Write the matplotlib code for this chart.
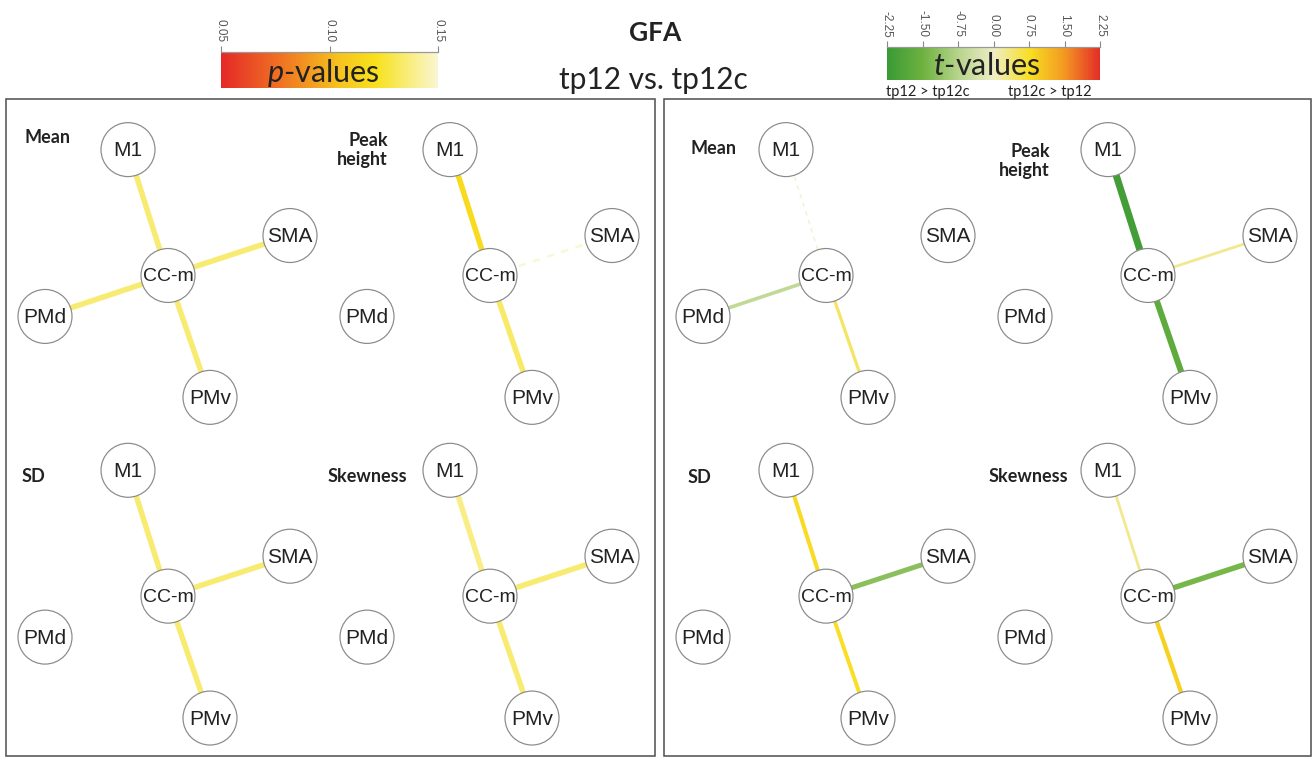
import numpy as np
import matplotlib
matplotlib.use('Agg')
import matplotlib.pyplot as plt
from matplotlib.patches import Circle, Rectangle
from matplotlib.colors import LinearSegmentedColormap, Normalize
from matplotlib.cm import ScalarMappable

plt.rcParams['mathtext.fontset'] = 'custom'
plt.rcParams['mathtext.it'] = 'Lato:italic'
plt.rcParams['mathtext.rm'] = 'Lato'

# ---- data ----
nodes = ['M1', 'SMA', 'PMd', 'PMv']          # edges go from CC-m to these
measures = ['Mean', 'Peak\nheight', 'SD', 'Skewness']

# left box: p-values (nan = no edge)
p_mean = [0.135, 0.135, 0.135, 0.135]
p_peak = [0.118, 0.148, np.nan, 0.133]
p_sd = [0.135, 0.135, np.nan, 0.135]
p_skew = [0.138, 0.135, np.nan, 0.135]

# right box: t-values
t_mean = [0.05, np.nan, -0.6, 0.45]
t_peak = [-2.1, 0.25, np.nan, -1.7]
t_sd = [0.8, -1.2, np.nan, 0.75]
t_skew = [0.25, -1.4, np.nan, 0.9]

p_ticks = [0.05, 0.10, 0.15]
t_ticks = [-2.25, -1.50, -0.75, 0.00, 0.75, 1.50, 2.25]

# ---- colour maps ----
p_cmap = LinearSegmentedColormap.from_list('pv', [
    (0.0, '#e52828'), (0.3, '#f07a22'), (0.55, '#f6c41e'),
    (0.72, '#f8e21e'), (1.0, '#f9f6d2')])
t_cmap = LinearSegmentedColormap.from_list('tv', [
    (0.0, '#3a9a35'), (0.17, '#6fb240'), (0.33, '#b5d38a'),
    (0.5, '#eeedc6'), (0.67, '#f8df22'), (0.83, '#f39a22'),
    (1.0, '#e42d28')])
p_norm = Normalize(0.05, 0.15)
t_norm = Normalize(-2.25, 2.25)

W, H = 1315, 757
fig = plt.figure(figsize=(W / 100, H / 100), dpi=100)
ax = fig.add_axes([0, 0, 1, 0.999])
ax.set_xlim(0, W)
ax.set_ylim(H, 0)
ax.axis('off')

PX = 0.72  # points per pixel

# layout of one network, relative to CC-m
offs = {'M1': (-40, -126), 'SMA': (122, -40), 'PMd': (-123, 41), 'PMv': (42, 122)}
R = 27
col_x = [168, 490, 826, 1148]
row_y = [275, 596]

# boxes
for x0, x1 in [(6, 655), (664, 1311)]:
    ax.add_patch(Rectangle((x0, 98), x1 - x0, 658, fill=False, ec='#555555', lw=1.6 * PX))


def draw_net(cx, cy, vals, kind):
    for n, v in zip(nodes, vals):
        if np.isnan(v):
            continue
        dx, dy = offs[n]
        if kind == 'p':
            col = p_cmap(p_norm(v))
            faint = v >= 0.145
            lw = 2.5 if faint else 5.5
        else:
            col = t_cmap(t_norm(v))
            faint = abs(v) < 0.1
            lw = 1.5 if faint else 2.2 + 2.3 * abs(v)
        ls = (0, (3, 3)) if faint else '-'
        ax.plot([cx, cx + dx], [cy, cy + dy], color=col, lw=lw * PX, ls=ls,
                alpha=0.7 if faint else 1, solid_capstyle='butt', zorder=2)
    for n, (dx, dy) in list(offs.items()) + [('CC-m', (0, 0))]:
        ax.add_patch(Circle((cx + dx, cy + dy), R, fc='white', ec='#8a8a8a',
                            lw=1.2 * PX, zorder=3))
        ax.text(cx + dx, cy + dy + 1, n, ha='center', va='center',
                fontsize=15 if n != 'CC-m' else 14,
                family='Liberation Sans', color='#222222', zorder=4)


left = [p_mean, p_peak, p_sd, p_skew]
right = [t_mean, t_peak, t_sd, t_skew]
for i in range(4):
    r, c = divmod(i, 2)
    draw_net(col_x[c], row_y[r], left[i], 'p')
    draw_net(col_x[c + 2], row_y[r], right[i], 't')

lab = dict(fontsize=13, fontweight='bold', family='Lato', color='#222222', va='center')
ax.text(25, 137, measures[0], ha='left', **lab)
ax.text(388, 149, measures[1], ha='right', ma='right', linespacing=1.15, **lab)
ax.text(22, 476, measures[2], ha='left', **lab)
ax.text(407, 476, measures[3], ha='right', **lab)
ax.text(691, 148, measures[0], ha='left', **lab)
ax.text(1050, 160, measures[1], ha='right', ma='right', linespacing=1.15, **lab)
ax.text(688, 477, measures[2], ha='left', **lab)
ax.text(1068, 476, measures[3], ha='right', **lab)

# title
ax.text(655, 32, 'GFA', ha='center', va='center', fontsize=19, fontweight='bold',
        family='Lato', color='#222222')
ax.text(653, 79, 'tp12 vs. tp12c', ha='center', va='center', fontsize=21.5,
        family='Lato', color='#222222')


def cbar(rect, cmap, norm, ticks, label):
    x0, y0, x1, y1 = rect
    cax = fig.add_axes([x0 / W, 1 - y1 / H, (x1 - x0) / W, (y1 - y0) / H])
    cb = fig.colorbar(ScalarMappable(norm=norm, cmap=cmap), cax=cax,
                      orientation='horizontal', ticks=ticks)
    cb.outline.set_visible(False)
    cax.xaxis.set_ticks_position('top')
    cax.set_xticklabels(['%.2f' % t for t in ticks], rotation=270, fontsize=8.5,
                        family='Liberation Sans', color='#555555')
    cax.tick_params(axis='x', length=4, width=0.8, color='#888888', pad=3)
    cax.axhline(1, color='#999999', lw=0.9, clip_on=False)
    cax.text(0.47, 0.42, label, transform=cax.transAxes, ha='center', va='center',
             fontsize=22, family='Lato', color='#222222')
    return cax


cbar((221, 52, 438, 88), p_cmap, p_norm, p_ticks, r'$p$-values')
cbar((887, 47, 1100, 80), t_cmap, t_norm, t_ticks, r'$t$-values')

ax.text(886, 91, 'tp12 > tp12c', ha='left', va='center', fontsize=10.5,
        family='Lato', color='#222222')
ax.text(1092, 91, 'tp12c > tp12', ha='right', va='center', fontsize=10.5,
        family='Lato', color='#222222')

fig.savefig('out.png', dpi=100)
